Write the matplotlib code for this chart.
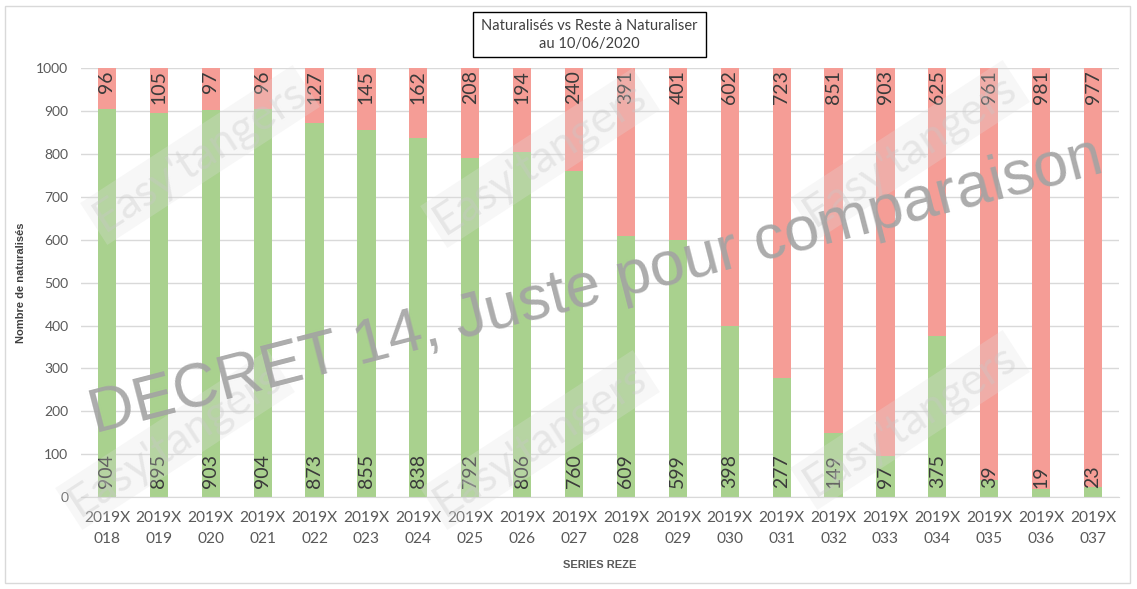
import matplotlib.pyplot as plt
import numpy as np
from matplotlib.patches import Rectangle

series = ["018", "019", "020", "021", "022", "023", "024", "025", "026", "027",
          "028", "029", "030", "031", "032", "033", "034", "035", "036", "037"]
naturalises = [904, 895, 903, 904, 873, 855, 838, 792, 806, 760,
               609, 599, 398, 277, 149, 97, 375, 39, 19, 23]
reste = [96, 105, 97, 96, 127, 145, 162, 208, 194, 240,
         391, 401, 602, 723, 851, 903, 625, 961, 981, 977]

green = "#A9D18E"
red = "#F59D96"
txt = "#595959"

plt.rcParams["font.family"] = ["Lato", "DejaVu Sans"]

fig = plt.figure(figsize=(11.37, 5.89), dpi=100)
fig.patches.append(Rectangle((0.004, 0.01), 0.99, 0.98, transform=fig.transFigure,
                             fill=False, edgecolor="#D9D9D9", lw=1))
ax = fig.add_axes([0.0712, 0.156, 0.913, 0.728])

labels = [f"2019X\n{s}" for s in series]
x = np.arange(len(series))
nat = np.array(naturalises)
res = np.array(reste)
ax.bar(x, nat, width=0.35, color=green, zorder=2)
ax.bar(x, res, width=0.35, bottom=nat, color=red, zorder=2)

for i in x:
    ax.text(i, 22, str(nat[i]), rotation=90, ha="center", va="bottom",
            fontsize=14, color="#3A3A3A", zorder=3)
    ax.text(i, 996, str(res[i]), rotation=90, ha="center", va="top",
            fontsize=14, color="#3A3A3A", zorder=3)

ax.set_xlim(-0.5, len(series) - 0.5)
ax.set_ylim(0, 1000)
ax.set_yticks(range(0, 1001, 100))
ax.set_xticks(x)
ax.set_xticklabels(labels, fontsize=11.2, color=txt, linespacing=1.65)
ax.tick_params(axis="y", length=0, labelsize=10, labelcolor=txt, pad=9)
ax.tick_params(axis="x", length=0, pad=10)
ax.grid(axis="y", color="#D9D9D9", lw=1, zorder=0)
for s in ["top", "right", "left"]:
    ax.spines[s].set_visible(False)
ax.spines["bottom"].set_color("#D9D9D9")

ax.set_ylabel("Nombre de naturalisés", fontsize=8, color="#404040",
              fontweight="bold", family="Liberation Sans")
ax.yaxis.set_label_coords(-0.053, 0.5)
ax.set_xlabel("SERIES REZE", fontsize=8, color="#595959", fontweight="bold",
              family="Liberation Sans")
ax.xaxis.set_label_coords(0.5, -0.158)
ax.xaxis.label.set_va("center")

# titre encadré
fig.patches.append(Rectangle((473 / 1137, 1 - 57 / 589), 233 / 1137, 45 / 589,
                             transform=fig.transFigure, fill=False,
                             edgecolor="black", lw=1, zorder=4))
fig.text(0.5185, 1 - 35 / 589, "Naturalisés vs Reste à Naturaliser\nau 10/06/2020",
         ha="center", va="center", fontsize=10.5, color="#404040",
         linespacing=1.45)

# filigranes
for fx, fy in [(200, 155), (540, 158), (910, 150),
               (175, 440), (540, 440), (910, 420)]:
    fig.text(fx / 1137, 1 - fy / 589, "Easy'tangers", rotation=33,
             ha="center", va="center", fontsize=32, color="#C8C8C8",
             alpha=0.35, zorder=5,
             bbox=dict(boxstyle="square,pad=0.1", fc="#E0E0E0", ec="none",
                       alpha=0.25))

fig.text(600 / 1137, 1 - 303 / 589, "DECRET 14, Juste pour comparaison",
         rotation=14.5, rotation_mode="anchor", ha="center", va="baseline",
         fontsize=45, color="#A3A3A3", alpha=0.9,
         family="Liberation Sans", zorder=6)

fig.savefig("out.png", dpi=100)
